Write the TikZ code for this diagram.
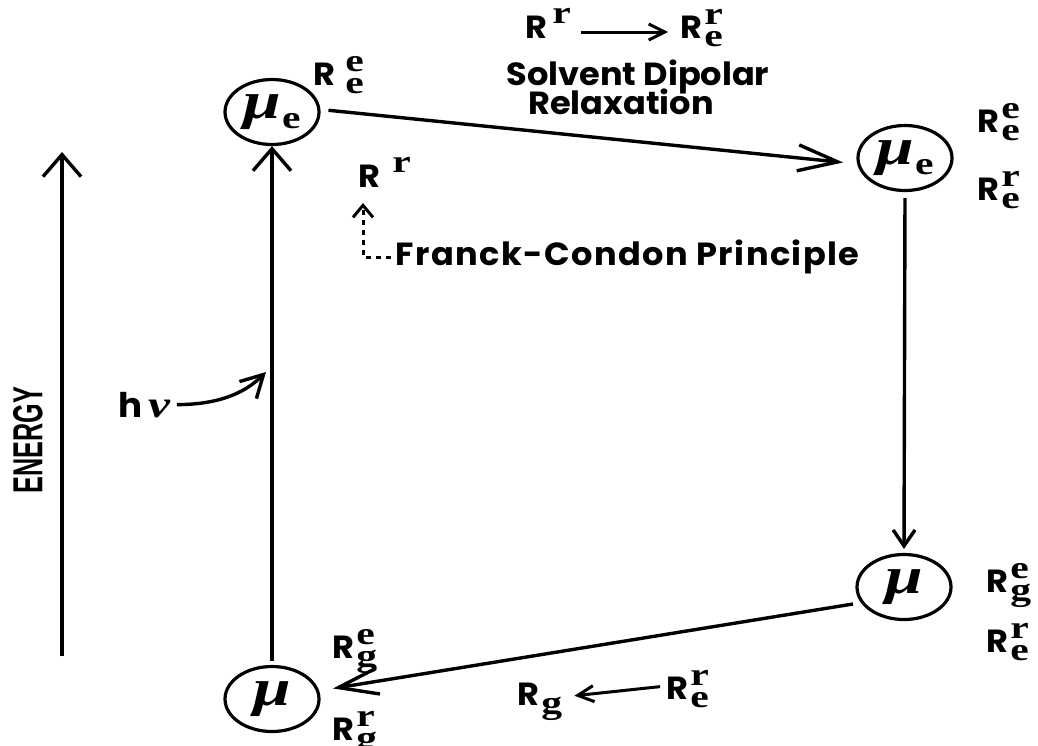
\documentclass[tikz,border=0pt]{standalone}
\usepackage{fontspec}
\usetikzlibrary{arrows.meta,shapes.geometric}
\newfontfamily\lblfont{Poppins}[FakeStretch=1.05]
\newfontfamily\axisfont{Liberation Sans}[FakeStretch=0.6]
\newfontfamily\rscr{Liberation Serif}[FakeStretch=1.3]
\newcommand{\Rscript}{\rscr\bfseries\fontsize{16}{16}\selectfont}
\newcommand{\Rsym}{{\lblfont\bfseries\fontsize{16}{16}\selectfont R}}
\newcommand{\Rboth}[3][1pt]{\Rsym\kern#1\raisebox{7pt}{\rlap{\Rscript #2}}\raisebox{-4pt}{\Rscript #3}}
\newcommand{\Rup}[2][1pt]{\Rsym\kern#1\raisebox{7.5pt}{\Rscript #2}}
\newcommand{\Rdn}[1]{\Rsym\kern1pt\raisebox{-4pt}{\Rscript #1}}
\newcommand{\muS}{{\rscr\bfseries\itshape\fontsize{26}{26}\selectfont μ}}
\newcommand{\muE}{\muS\kern0.5pt\raisebox{-5pt}{\Rscript e}}
\begin{document}
\begin{tikzpicture}[x=0.5pt,y=-0.5pt,
  state/.style={ellipse,draw,line width=1.6pt,minimum width=47pt,minimum height=32.5pt,inner sep=0pt},
  lbl/.style={inner sep=0pt,anchor=base west},
  txt/.style={inner sep=0pt,font=\lblfont\bfseries\fontsize{16}{18}\selectfont},
  vlong/.style={line width=1.7pt,-{Straight Barb[length=11pt,width=19pt]}},
  hlong/.style={line width=1.7pt,-{Straight Barb[length=20pt,width=13pt]}},
  vmid/.style={line width=1.7pt,-{Straight Barb[length=8pt,width=11pt]}},
  small/.style={line width=1.5pt,-{Straight Barb[length=8pt,width=8pt]}}]
\useasboundingbox (0,0) rectangle (1038,745);
\node[state] (exFC) at (272,112) {\muE};
\node[state] (exEq) at (905,158) {\muE};
\node[state] (gndFC) at (904,587) {\muS};
\node[state] (gnd) at (272,699) {\muS};
\draw[vlong,shorten <=2pt] (gnd.north) -- (exFC.south);
\draw[hlong,shorten <=4pt,shorten >=7pt] (exFC.3) -- (exEq.187);
\draw[vmid,shorten <=3pt,shorten >=2pt] (exEq.south) -- (gndFC.north);
\draw[hlong,shorten <=4pt,shorten >=7pt] (gndFC.200) -- (gnd.10);
\coordinate (eBot) at (62,656);
\coordinate (eTop) at (62,152);
\draw[vlong] (eBot) -- (eTop);
\node[rotate=90,inner sep=0pt,font=\axisfont\bfseries\fontsize{21}{21}\selectfont] (energy) at (28,440) {ENERGY};
\node[lbl] (hnu) at (118,417) {{\lblfont\bfseries\fontsize{17}{17}\selectfont h}\kern3pt{\rscr\bfseries\itshape\fontsize{19}{19}\selectfont ν}};
\coordinate (hnuTip) at (266,372);
\draw[line width=1.7pt,-{Straight Barb[length=11pt,width=12pt]}] ([xshift=3pt]hnu.east) .. controls +(40,0) and +(-22,22) .. (hnuTip);
\node[lbl] (rTopA) at (525,38) {\Rup[2.5pt]{r}};
\node[lbl] (rTopB) at (680,38) {\Rboth{r}{e}};
\draw[small,shorten <=5pt,shorten >=6pt] ([yshift=3pt]rTopA.base east) -- ([yshift=3pt]rTopB.base west);
\node[txt,anchor=base] (solv) at (638,85) {Solvent Dipolar};
\node[txt,anchor=base] (relax) at (621,114) {Relaxation};
\node[lbl] (rMid) at (358,187) {\Rup[6pt]{r}};
\node[txt,anchor=base west,font=\lblfont\bfseries\fontsize{16}{18}\selectfont\addfontfeatures{LetterSpace=4.5}] (fc) at (395,265) {Franck-Condon Principle};
\coordinate (fcTip) at (363,203);
\draw[line width=1.5pt,dash pattern=on 2.5pt off 2.5pt,shorten <=2pt,-{Straight Barb[length=6pt,width=10pt]}] ([yshift=4pt]fc.base west) -| (fcTip);
\node[lbl] (lEx1) at (313,85) {\Rboth[5pt]{e}{e}};
\node[lbl] (lEq1) at (977,132) {\Rboth{e}{e}};
\node[lbl] (lEq2) at (977,200) {\Rboth{r}{e}};
\node[lbl] (lFC1) at (986,592) {\Rboth{e}{g}};
\node[lbl] (lFC2) at (986,652) {\Rboth{r}{e}};
\node[lbl] (lG1) at (332,658) {\Rboth{e}{g}};
\node[lbl] (lG2) at (332,740) {\Rboth{r}{g}};
\node[lbl] (rg) at (517,705) {\Rdn{g}};
\node[lbl] (rre) at (666,699) {\Rboth{r}{e}};
\draw[small,shorten <=3pt,shorten >=6pt] ([yshift=6.5pt]rre.base west) -- ([yshift=4pt]rg.base east);
\end{tikzpicture}
\end{document}
